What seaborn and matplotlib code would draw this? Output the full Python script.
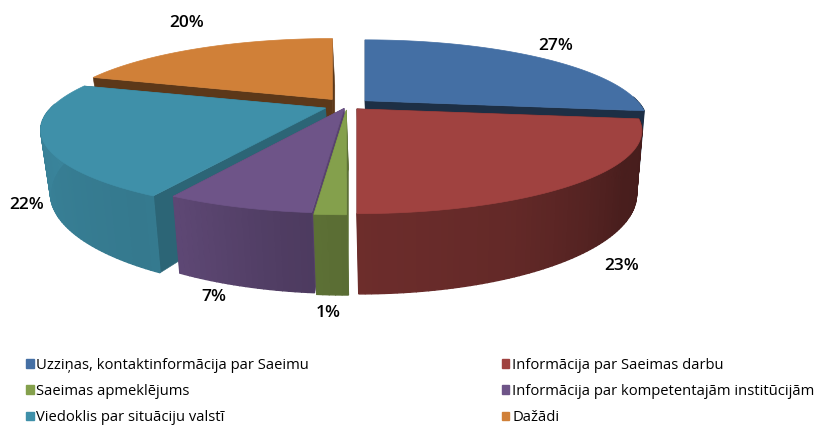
import matplotlib

matplotlib.use("Agg")
import matplotlib.pyplot as plt
import numpy as np
import seaborn as sns
from matplotlib.patches import Patch

# shares in percent, in drawing order clockwise from 12 o'clock
categories = [
    "Uzziņas, kontaktinformācija par Saeimu",
    "Informācija par Saeimas darbu",
    "Saeimas apmeklējums",
    "Informācija par kompetentajām institūcijām",
    "Viedoklis par situāciju valstī",
    "Dažādi",
]
shares = [27.0, 23.0, 1.4, 6.6, 22.0, 20.0]

colors = ["#446FA4", "#A04240", "#84A04C", "#6E5488", "#3F90A9", "#D08038"]
face_shade = [0.42, 0.45, 0.7, 0.8, 0.7, 0.44]
explode = [24, 15, 15, 10, 23, 25]
stretch = [1.0, 1.01, 1.0, 1.0, 1.01, 1.0]
label_xy = [(556, 46), (622, 266), (328, 313), (214, 297), (27, 205), (187, 23)]

# perspective of the pie, in pixels
CENTER = (347, 105.5)
RADIUS = 272
FOCAL = 0.265
TILT = 77
DEPTH = 59
VANISH_X = 430
VANISH_PULL = 0.025

sns.set_theme(style="white")
plt.rcParams["font.family"] = ["Open Sans", "DejaVu Sans"]
palette = sns.color_palette(colors)


def rim(theta, apex, widen):
    u, v = np.sin(theta), np.cos(theta)
    scale = 1 + FOCAL * v
    return apex[0] + RADIUS * widen * u / scale, apex[1] - TILT * v / scale


def drop(theta):
    return DEPTH / (1 + FOCAL * np.cos(theta))


def lower(x):
    return x + (VANISH_X - x) * VANISH_PULL


def shade(color, factor):
    return tuple(min(1, c * factor) for c in color)


def wall_shade(deg):
    return np.interp(
        deg,
        [90, 125, 155, 180, 190, 208, 212, 290],
        [0.42, 0.46, 0.62, 0.68, 0.72, 0.85, 0.84, 0.94],
    )


def draw_slice(ax, start, end, color, side, offset, widen):
    mid = (start + end) / 2
    apex = (
        CENTER[0] + offset * np.sin(mid),
        CENTER[1] - 0.3 * offset * np.cos(mid),
    )

    # flat cut faces
    for edge in (start, end):
        x, y = rim(edge, apex, widen)
        ax.fill(
            [apex[0], x, lower(x), lower(apex[0])],
            [apex[1], y, y + drop(edge), apex[1] + DEPTH],
            color=shade(color, side),
            lw=0.4,
        )

    # outer wall in thin strips so the light changes along it, front part only
    steps = np.linspace(start, end, max(int(np.degrees(end - start)), 2) + 1)
    for t0, t1 in zip(steps[:-1], steps[1:]):
        if np.cos((t0 + t1) / 2) > 0.05:
            continue
        x0, y0 = rim(t0, apex, widen)
        x1, y1 = rim(t1, apex, widen)
        tone = shade(color, wall_shade(np.degrees((t0 + t1) / 2)))
        ax.fill(
            [x0, x1, lower(x1), lower(x0)],
            [y0, y1, y1 + drop(t1), y0 + drop(t0)],
            color=tone,
            lw=1,
        )

    # top face
    arc = np.linspace(start, end, 120)
    xs, ys = rim(arc, apex, widen)
    ax.fill(
        np.r_[apex[0], xs],
        np.r_[apex[1], ys],
        color=color,
        lw=0.5,
    )


fig = plt.figure(figsize=(8.18, 4.26), dpi=100)
ax = fig.add_axes([0, 0, 1, 1])
ax.set_xlim(0, 818)
ax.set_ylim(426, 0)
ax.axis("off")

edges = np.radians(np.r_[0, np.cumsum(shares)] * 3.6)
order = sorted(
    range(len(shares)),
    key=lambda i: -np.cos((edges[i] + edges[i + 1]) / 2),
)
for i in order:
    draw_slice(
        ax, edges[i], edges[i + 1], palette[i],
        face_shade[i], explode[i], stretch[i],
    )

for share, (x, y) in zip(shares, label_xy):
    ax.text(
        x, y, f"{share:.0f}%",
        ha="center", va="center",
        fontsize=12.5, color="black",
        fontweight="semibold",
    )

# matplotlib fills legend columns first, the reference reads row by row
rows = [0, 2, 4, 1, 3, 5]
handles = [Patch(color=palette[i], label=categories[i]) for i in rows]
ax.legend(
    handles=handles,
    ncol=2,
    loc="lower left",
    bbox_to_anchor=(0.032, 0.002),
    frameon=False,
    fontsize=10.6,
    labelcolor="black",
    handlelength=0.5,
    handleheight=0.55,
    handletextpad=0.2,
    labelspacing=0.76,
    columnspacing=13.1,
    borderpad=0,
    borderaxespad=0,
)

fig.savefig("out.png", dpi=100, facecolor="white")
